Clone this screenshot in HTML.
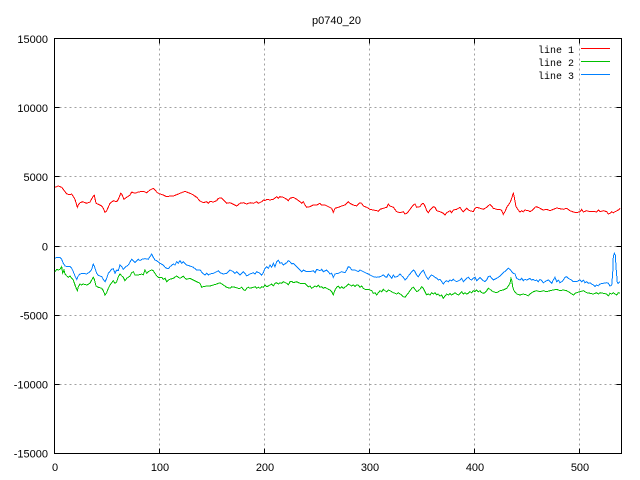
<!DOCTYPE html>
<html><head><meta charset="utf-8"><style>
html,body{margin:0;padding:0;background:#fff;}
svg{display:block;}
</style></head><body>
<svg width="640" height="480" viewBox="0 0 640 480" xmlns="http://www.w3.org/2000/svg">
<rect width="640" height="480" fill="#fff"/>
<g stroke="#a0a0a0" stroke-width="1" stroke-dasharray="2,3" fill="none">
<line x1="54.5" y1="107.5" x2="621.5" y2="107.5"/>
<line x1="54.5" y1="176.5" x2="621.5" y2="176.5"/>
<line x1="54.5" y1="246.5" x2="621.5" y2="246.5"/>
<line x1="54.5" y1="315.5" x2="621.5" y2="315.5"/>
<line x1="54.5" y1="384.5" x2="621.5" y2="384.5"/>
<line x1="159.5" y1="38.5" x2="159.5" y2="453.5"/>
<line x1="264.5" y1="38.5" x2="264.5" y2="453.5"/>
<line x1="369.5" y1="38.5" x2="369.5" y2="453.5"/>
<line x1="474.5" y1="38.5" x2="474.5" y2="453.5"/>
<line x1="579.5" y1="38.5" x2="579.5" y2="453.5"/>
</g>
<g stroke="#000" stroke-width="1" fill="none">
<rect x="54.5" y="38.5" width="567" height="415"/>
<path d="M54.5 107.5h5M54.5 176.5h5M54.5 246.5h5M54.5 315.5h5M54.5 384.5h5M621.5 107.5h-5M621.5 176.5h-5M621.5 246.5h-5M621.5 315.5h-5M621.5 384.5h-5M159.5 453.5v-5M264.5 453.5v-5M369.5 453.5v-5M474.5 453.5v-5M579.5 453.5v-5M159.5 38.5v5M264.5 38.5v5M369.5 38.5v5M474.5 38.5v5M579.5 38.5v5"/>
</g>
<g font-family="Liberation Sans, sans-serif" font-size="11" fill="#000">
<text x="336.5" y="24" text-anchor="middle">p0740_20</text>
<g text-anchor="end">
<text x="48" y="43">15000</text>
<text x="48" y="112">10000</text>
<text x="48" y="181">5000</text>
<text x="48" y="250.5">0</text>
<text x="48" y="319.5">-5000</text>
<text x="48" y="388.5">-10000</text>
<text x="48" y="457.5">-15000</text>
</g>
<g text-anchor="middle">
<text x="55" y="471">0</text>
<text x="160" y="471">100</text>
<text x="265" y="471">200</text>
<text x="370" y="471">300</text>
<text x="475" y="471">400</text>
<text x="580" y="471">500</text>
</g>
</g>
<g font-family="Liberation Mono, monospace" font-size="10" fill="#000" text-anchor="end">
<text x="574" y="53">line 1</text>
<text x="574" y="66">line 2</text>
<text x="574" y="79">line 3</text>
</g>
<g stroke-width="1" fill="none" shape-rendering="crispEdges">
<line x1="581" y1="48.5" x2="610" y2="48.5" stroke="#ff0000"/>
<line x1="581" y1="61.5" x2="610" y2="61.5" stroke="#00c000"/>
<line x1="581" y1="74.5" x2="610" y2="74.5" stroke="#0080ff"/>
</g>
<g fill="none" stroke-width="1" stroke-linejoin="miter" shape-rendering="crispEdges">
<polyline stroke="#ff0000" points="55,187.3 58.3,186 61.7,187.3 63.3,189.3 66.7,194 70,194.7 71.7,194 75,199.3 77.3,207.3 78.3,205 80,202.7 82.7,201.7 86.7,203.3 90,202 93.3,196 94.3,195.3 96,203.3 98.3,204.3 101.7,206 103.3,208.3 105,212.3 106.7,210.7 110,203.3 113.3,200.7 116.7,201.7 118.3,199.3 120.7,193.3 121.7,194 124,199.3 126.7,197.3 130,195 131.7,192 135,193.3 138.3,192 143.3,191.3 146.7,192.7 150,190 153.3,188.3 155,190 157.3,192.7 160,194 163.3,195 166.7,196.7 170,196 173.3,196 176.7,194.7 180,193.3 183.3,192 185,191.3 188.3,192.7 191.7,194 193.3,195 196.7,197.3 200,201 203.3,202.7 206.7,201.7 208.3,203.3 210,201.3 213.3,202 216.7,200.7 218.3,198.3 221.7,198 223.3,200 226.7,203.3 230,202.7 233.3,204.3 236.7,206 240,203.3 243.3,202.7 246.7,204 250,202.7 253.3,203.3 256.7,201.7 258.3,203.3 261.7,201.7 263.3,200 265,200.7 266.7,199.3 270,200 273.3,199.3 276.7,196.7 278.3,198.3 280,196.7 283.3,197.3 286.7,199.3 288.3,200.7 290,198.3 293.3,197.3 296.7,199.3 300,201.7 301.7,203.3 303.3,201.7 305,205 306.7,207.3 310,206.7 313.3,205 316.7,205 320,203.3 321.7,205 325,205 328.3,206.7 331.7,208.3 333.3,212.3 335,208.3 338.3,207.3 341.7,206 345,205 346.7,203.3 348.3,201.7 350,203.3 353.3,205 356.7,206 358.3,204 360,202.7 361.7,203.3 363.3,206 366.7,207.3 370,209.3 373.3,210 376.7,210.7 378.3,211.3 380,209.3 383.3,208.3 386.7,207.3 388.3,204 390,206 393.3,207.3 396.7,211.7 400,212.7 403.3,211.7 405,214 406.7,213.3 408.3,211.7 410,209.3 413.3,205 415,204 416.7,207.3 420,206.7 421.7,204 423.3,203.3 425,206 426.7,210.7 428.3,212.7 430,210 433.3,206.7 435,207.3 436.7,210.7 440,211.7 443.3,213.3 445,215 446.7,212.7 448.3,211.7 450,210.7 451.7,212.7 453.3,210 456.7,209.3 460,207.3 461.7,210 463.3,211.7 466.7,208.3 468.3,210 470,210.7 473.3,211.7 475,208.3 476.7,207.3 480,208.3 483.3,209.3 486.7,207.3 490,204.3 491.7,206 493.3,208.3 496.7,209.3 500,209.3 501.7,210.7 503.3,214.3 505,211.7 506.7,207.3 510,202.7 511.7,198.3 512.7,195 513.3,193.3 514.3,197.3 516,206.7 518.3,210 520,212 521.7,210.7 523.3,212 525,210 528.3,210.7 530,211.7 531.7,210.7 535,207.3 536.7,206.7 540,208.3 543.3,210 546.7,209.3 550,210.7 553.3,209.3 556.7,208 560,208.7 563.3,209.3 566.7,208.3 570,210.7 573.3,212 576.7,212.7 580,211.7 581.7,209.3 583.3,212 586.7,210.7 590,211.7 593.3,211.3 596.7,212 598.3,210 600,211.7 603.3,210.7 606.7,211.7 608.3,214 610,213.3 611.7,211.7 613.3,212.7 615,211.7 616.7,211 618.3,210 620,208.3"/>
<polyline stroke="#00c000" points="55,271.7 56.7,269.3 58.3,270 60,269.3 61.7,266.7 62.7,273.3 64,270 65,274 66.7,276 68.3,277.3 70,276 71.7,278.3 73.3,280 75,285 76.7,289.3 77.3,290.7 78.3,286.7 80,284 81.7,285 83.3,284 86.7,285 90,283.3 91.7,280 93.3,277.3 94.3,279.3 96,286 98.3,287.3 101.7,288.3 103.3,290.7 105,295 106.7,292.7 108.3,288.3 110,285 111.7,282.7 113.3,280.7 115,283.3 116.7,281.7 118.3,276.7 120,274 121.7,276 123.3,277.3 125,280.7 126.7,278.3 130,276 131.7,272.7 133.3,271.7 135,275 138.3,275 141.7,274 143.3,275 145,270 146.7,273.3 148.3,271.7 150,270.7 151.7,270 153.3,270.7 155,273.3 156.7,276 158.3,277.3 161.7,277.3 163.3,279.3 165,278.3 166.7,281.7 168.3,280 170,279.3 173.3,278.3 176.7,276 178.3,277.3 180,278.3 181.7,277.3 183.3,276 185,278.3 186.7,279.3 190,278.3 193.3,280 196.7,281.7 200,283.3 201.7,287.3 203.3,286.7 206.7,286 210,286 213.3,285 216.7,284 218.3,283.3 220,282.7 223.3,285 226.7,287.3 230,288.3 231.7,286.7 235,287.3 238.3,288.3 240,288.3 241.7,287.3 243.3,289.3 245,290.7 246.7,288.3 248.3,287.3 250,288.3 253.3,287.3 255,286.7 256.7,288.3 258.3,287.3 260,288.3 261.7,286.7 263.3,287.3 265,285 266.7,286.7 268.3,286 270,285 271.7,284 273.3,286 275,283.3 276.7,282.7 278.3,284 280,282.7 281.7,283.3 283.3,281.7 286.7,283.3 288.3,285 290,281.7 291.7,281.3 293.3,282.7 296.7,281.7 300,283.3 303.3,283.3 305,283.3 306.7,285 308.3,286.7 310,286 311.7,288.3 313.3,287.3 315,286 316.7,286.7 318.3,285 320,287.3 321.7,286.7 323.3,288.3 325,287.3 326.7,288.3 328.3,289.3 330,290 331.7,291.7 333.3,295 335,290 336.7,287.3 338.3,286 340,288.3 341.7,286.7 343.3,288.3 346.7,286 348.3,284 350,285 351.7,286 353.3,285 355,286.7 356.7,285 358.3,285 360,287.3 361.7,286 363.3,288.3 365,289.3 368.3,289.3 371.7,290.7 373.3,293.3 375,292.7 376.7,295 378.3,292.7 380,290.7 381.7,291.7 383.3,289.3 385,290.7 386.7,291.7 388.3,290 390,290.7 391.7,291.7 393.3,292.7 395,293.3 396.7,294 398.3,292.7 400,294 401.7,295 403.3,296.7 405,297.3 406.7,295 408.3,293.3 410,290.7 411.7,288.3 413.3,287.3 415,289.3 416.7,291.7 418.3,290.7 420,289.3 421.7,286.7 423.3,288.3 425,291.7 426.7,295 428.3,294 430,295 431.7,292.7 433.3,294 435,292.7 436.7,295 438.3,294 440,296 441.7,295 443.3,298.3 445,296 446.7,294 448.3,295 450,293.3 451.7,295 453.3,294 455,292.7 456.7,294 458.3,295 460,293.3 461.7,291.7 463.3,294 465,292.7 466.7,294 468.3,293.3 470,291.7 471.7,292.7 473.3,290.7 475,291.7 476.7,290 478.3,291.7 480,290.7 481.7,292.7 483.3,293.3 485,292.7 486.7,290.7 488.3,288.3 490,289.3 491.7,290.7 493.3,291.7 496.7,292.7 500,290.7 503.3,290 506.7,288.3 508.3,286 510,283.3 511,278.3 511.7,280 512.7,286.7 514,290.7 516.7,294 520,295 523.3,294 526.7,295 528.3,296 530,294 531.7,292.7 533.3,291.7 536.7,290.7 540,291.7 543.3,290.7 546.7,291.7 550,290.7 553.3,290 556.7,289.3 560,290.7 563.3,290 566.7,290.7 570,292.7 573.3,295 575,293.3 576.7,292.7 580,291.7 583.3,290.7 586.7,292.7 590,293.3 593.3,294 596.7,292.7 598.3,294 600,292.7 603.3,293.3 606.7,294 608.3,296 610,293.3 611.7,294 613.3,292.7 615,294 616.7,295 618.3,292.7 620,293.3"/>
<polyline stroke="#0080ff" points="55,258.3 56.7,257.3 60,257.3 61.7,259.3 63.3,263.3 65,266 68.3,266.7 70,266.7 71.7,268.3 73.3,271.7 75,276 76.7,279.3 78.3,276 80,274 83.3,273.3 86.7,274 90,271.7 91.7,269.3 93.3,264 94.3,266 96.7,273.3 98.3,275.3 101.7,276.7 103.3,279.3 105,281.7 106.7,278.3 108.3,273.3 111.7,269.3 113.3,268.7 115,273.3 116.7,270 118.3,270.7 120,265 121.7,266.7 123.3,269.3 125,267.3 128.3,265 131.7,259.3 133.3,260.7 135,262.7 136.7,260.7 138.3,259.3 140,260.7 141.7,259.3 145,258.7 148.3,259.3 150,256.7 151.7,254 153.3,257.3 155,260 156.7,260.7 160,263.3 163.3,265 165,267.3 166.7,268.3 168.3,268.7 170,266.7 173.3,264 175,265 176.7,261.7 178.3,263.3 180,260.7 181.7,263.3 183.3,261.7 185,263.3 186.7,265 190,266 193.3,267.3 196.7,270 200,270 202.7,273.3 205,275 206.7,273.3 208.3,275 210,274 213.3,273.3 216.7,271.7 218.3,270.7 220,272.7 223.3,274 226.7,273.3 230,270 233.3,271.7 235,273.3 236.7,271.7 240,275 241.7,273.3 243.3,271.7 245,273.3 246.7,276 250,274 253.3,272.7 255,274 256.7,271.7 260,273.3 261.7,275 263.3,272.7 265,268.3 266.7,266.7 268.3,268.3 270,265 271.7,267.3 273.3,263.3 275,266.7 276.7,261.7 278.3,260 280,263.3 281.7,262.7 283.3,265 286.7,262.7 288.3,260.7 290,261.7 291.7,264 293.3,263.3 296.7,266.7 300,270 301.7,271.7 303.3,270 306.7,271.7 310,271.7 313.3,270.7 315,272.7 316.7,269.3 320,270.7 321.7,269.3 323.3,271.7 326.7,270 328.3,271.7 330,274 331.7,273.3 333.3,277.3 335,274 338.3,273.3 341.7,271.7 345,272.7 346.7,270 348.3,266.7 350,267.3 351.7,270 355,270 358.3,271.7 360,270 363.3,271.7 366.7,273.3 368.3,274 370,275 373.3,276.7 376.7,277.3 380,276.7 381.7,276 383.3,275 385,276.7 386.7,277.3 388.3,274 390,276 391.7,278.3 393.3,275 395,277.3 396.7,276.7 398.3,276 400,274 401.7,276 403.3,277.3 405,280 406.7,278.3 408.3,276 410,274 411.7,271.7 413.3,270 415,271.7 416.7,275 418.3,276.7 420,274 421.7,271.7 423.3,270 425,274 426.7,277.3 428.3,279.3 430,276.7 431.7,275 433.3,276 435,277.3 436.7,278.3 438.3,280 440,279.3 441.7,281.7 443.3,284 445,281.7 446.7,280.7 448.3,281.7 450,280 451.7,280.7 453.3,279.3 455,280.7 456.7,281.7 460,280 461.7,278.3 463.3,281.7 465,280 466.7,278.3 468.3,277.3 470,279.3 471.7,280 473.3,278.3 475,277.3 476.7,280.7 478.3,279.3 480,277.3 481.7,279.3 483.3,280.7 485,281.7 486.7,280 488.3,276.7 490,276 491.7,278.3 493.3,280 496.7,278.3 500,276 503.3,272.7 506.7,270 508.3,268.3 510,269.3 511.7,271.7 513.3,273.3 515,274 516.7,278.3 518.3,279.3 520,280 521.7,278.3 523.3,280.7 525,279.3 526.7,280 528.3,279.3 530,278.3 531.7,280 533.3,279.3 535,280.7 536.7,280 538.3,281.7 540,279.3 541.7,280.7 543.3,282.7 545,281.7 546.7,280.7 548.3,280 550,281.7 551.7,283.3 553.3,280 555,277.3 556.7,281.7 558.3,280 560,282.7 561.7,281.7 563.3,280 565,277.3 566.7,276.7 568.3,278.3 570,279.3 571.7,280 573.3,281.7 576.7,281.7 578.3,280.7 580,280 581.7,281.7 583.3,280 585,282.7 586.7,281.7 588.3,283.3 590,282.7 591.7,284 593.3,285 595,286.7 596.7,285 598.3,286 600,284 603.3,283.3 606.7,282.7 608.3,283.3 610,286 611.7,285 612.7,273.3 613.3,256.7 614.3,253.3 615.3,255 616,266.7 617.3,282.7 618.3,283.3 620,281.7"/>
</g>
</svg>
</body></html>
